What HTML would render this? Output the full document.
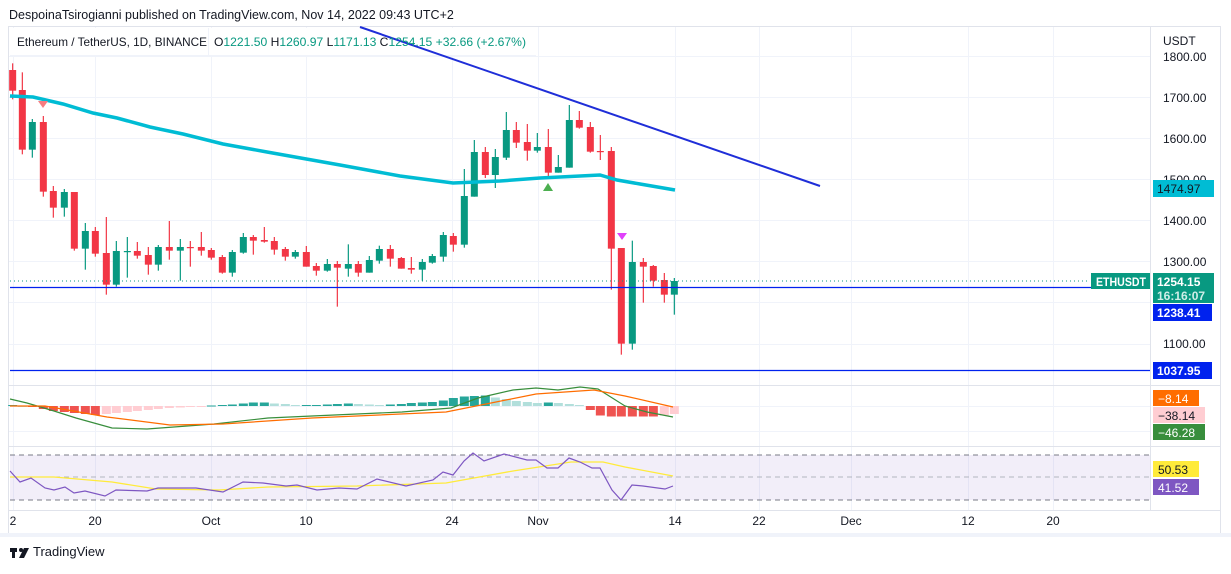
<!DOCTYPE html>
<html><head><meta charset="utf-8"><style>
body{margin:0;background:#fff;font-family:"Liberation Sans",sans-serif;}
svg text{font-family:"Liberation Sans",sans-serif;}
</style></head><body>
<svg id="s" width="1231" height="569" xmlns="http://www.w3.org/2000/svg">
<rect x="0" y="0" width="1231" height="569" fill="#fff"/>
<text x="9" y="19" font-size="12.5" fill="#131722">DespoinaTsirogianni published on TradingView.com, Nov 14, 2022 09:43 UTC+2</text>
<rect x="8.5" y="26.5" width="1212" height="507" fill="none" stroke="#e0e3eb"/>
<rect x="0" y="533" width="1231" height="4" fill="#f0f3fa"/>
<g id="grid" stroke="#f0f3fa" stroke-width="1"></g>
<line x1="9" y1="385.5" x2="1220" y2="385.5" stroke="#e0e3eb"/>
<line x1="9" y1="446.5" x2="1220" y2="446.5" stroke="#e0e3eb"/>
<line x1="1150.5" y1="27" x2="1150.5" y2="510" stroke="#e0e3eb"/>
<line x1="9" y1="510.5" x2="1220" y2="510.5" stroke="#e0e3eb"/>
<rect x="10" y="455" width="1140" height="45" fill="#7e57c2" fill-opacity="0.1"/>
<line x1="10" y1="455" x2="1150" y2="455" stroke="#787b86" stroke-dasharray="5,4"/>
<line x1="10" y1="477" x2="1150" y2="477" stroke="#b2b5be" stroke-dasharray="5,4"/>
<line x1="10" y1="500" x2="1150" y2="500" stroke="#787b86" stroke-dasharray="5,4"/>
<g id="c"></g>
<line x1="10" y1="281" x2="1090" y2="281" stroke="#089981" stroke-dasharray="1,3"/>
<line x1="10" y1="287.5" x2="1150" y2="287.5" stroke="#0022ee" stroke-width="1.2"/>
<line x1="10" y1="370.5" x2="1150" y2="370.5" stroke="#0022ee" stroke-width="1.2"/>
<polyline fill="none" stroke="#00bcd4" stroke-width="3.5" points="10,96 33,97 63,104 93,113 117,118 150,127 183,134 223,144 267,152 340,165 400,176 453,183 500,181 540,178 600,175 617,180 640,184 675,190"/>
<polygon points="38,101 48,101 43,108" fill="#f77c80"/>
<polygon points="543,191 553,191 548,183" fill="#4caf50"/>
<polygon points="617,233 627,233 622,240" fill="#e040fb"/>
<g id="h"></g>
<polyline fill="none" stroke="#388e3c" stroke-width="1.2" points="10,399 27,403 54,411 76,418 112,428 147,429 214,424 268,418 312,416 402,412 451,408 478,398 513,390 536,388 558,390 580,387 598,389 625,406 647,412 673,417"/>
<polyline fill="none" stroke="#ff6d00" stroke-width="1.2" points="10,406 45,406 107,417 170,425 223,424 312,418 446,412 491,403 536,394 594,390 625,396 673,407"/>
<polyline fill="none" stroke="#ffeb3b" stroke-width="1.3" points="10,477 54,477 112,482 156,489 219,490 268,487 357,486 446,483 513,471 571,462 603,462 625,467 673,476"/>
<polyline fill="none" stroke="#7e57c2" stroke-width="1.2" points="10,471 20,482 31,478 45,488 54,490 65,487 74,493 85,491 105,496 116,490 147,491 158,488 196,488 223,492 243,482 263,483 286,486 297,485 317,490 339,488 357,489 377,479 406,486 433,480 443,472 453,475 464,461 473,453 484,461 504,454 527,460 536,460 547,468 558,468 569,458 580,462 592,468 600,468 612,490 621,500 632,485 643,486 665,489 673,486"/>
<rect x="10" y="28" width="526" height="27" fill="#fff"/>
<line x1="10" y1="55.5" x2="536" y2="55.5" stroke="#f0f3fa"/>
<line x1="208.5" y1="28" x2="208.5" y2="55" stroke="#f0f3fa"/>
<line x1="360" y1="27" x2="820" y2="186" stroke="#1f2ed8" stroke-width="2"/>
<text x="17" y="46" font-size="12" fill="#131722" textLength="190" lengthAdjust="spacingAndGlyphs">Ethereum / TetherUS, 1D, BINANCE</text>
<text x="214" y="46" font-size="12" fill="#089981" textLength="312" lengthAdjust="spacingAndGlyphs"><tspan fill="#131722">O</tspan>1221.50  <tspan fill="#131722">H</tspan>1260.97  <tspan fill="#131722">L</tspan>1171.13  <tspan fill="#131722">C</tspan>1254.15  +32.66 (+2.67%)</text>
<g font-size="12" fill="#131722">
<text x="1163" y="45">USDT</text>
<text x="1163" y="61">1800.00</text><text x="1163" y="102">1700.00</text><text x="1163" y="143">1600.00</text><text x="1163" y="184">1500.00</text><text x="1163" y="225">1400.00</text><text x="1163" y="266">1300.00</text><text x="1163" y="348">1100.00</text>
</g>
<rect x="1153" y="180" width="61" height="17" fill="#00bcd4"/><text x="1157" y="193" font-size="12" fill="#131722">1474.97</text>
<rect x="1091" y="273" width="59" height="16" fill="#089981"/><text x="1096" y="286" font-size="11.5" fill="#fff" font-weight="bold" textLength="50" lengthAdjust="spacingAndGlyphs">ETHUSDT</text>
<rect x="1153" y="273" width="61" height="30" fill="#089981"/><text x="1157" y="286" font-size="12" fill="#fff" font-weight="bold">1254.15</text><text x="1157" y="300" font-size="12" fill="#cfeee8" font-weight="bold">16:16:07</text>
<rect x="1153" y="304" width="59" height="17" fill="#0022ee"/><text x="1157" y="317" font-size="12" fill="#fff" font-weight="bold">1238.41</text>
<rect x="1153" y="362" width="59" height="17" fill="#0022ee"/><text x="1157" y="375" font-size="12" fill="#fff" font-weight="bold">1037.95</text>
<rect x="1153" y="390" width="46" height="16" fill="#ff6d00"/><text x="1158" y="403" font-size="12" fill="#fff">−8.14</text>
<rect x="1153" y="407" width="52" height="16" fill="#ffcdd2"/><text x="1158" y="420" font-size="12" fill="#131722">−38.14</text>
<rect x="1153" y="424" width="52" height="16" fill="#388e3c"/><text x="1158" y="437" font-size="12" fill="#fff">−46.28</text>
<rect x="1153" y="461" width="46" height="16" fill="#ffeb3b"/><text x="1158" y="474" font-size="12" fill="#131722">50.53</text>
<rect x="1153" y="479" width="46" height="16" fill="#7e57c2"/><text x="1158" y="492" font-size="12" fill="#fff">41.52</text>
<g font-size="12" fill="#131722" text-anchor="middle">
<text x="13" y="525">2</text><text x="95" y="525">20</text><text x="211" y="525">Oct</text><text x="306" y="525">10</text><text x="452" y="525">24</text><text x="538" y="525">Nov</text><text x="675" y="525">14</text><text x="759" y="525">22</text><text x="851" y="525">Dec</text><text x="968" y="525">12</text><text x="1053" y="525">20</text>
</g>
<g transform="translate(10,545)"><rect x="0" y="3" width="7" height="4" fill="#131722"/><rect x="2" y="3" width="3" height="10" fill="#131722"/><circle cx="11" cy="5" r="2" fill="#131722"/><polygon points="14,3 19,3 14,13 9,13" fill="#131722"/></g>
<text x="33" y="556" font-size="13" fill="#131722">TradingView</text>
</svg>
<script>
var NS="http://www.w3.org/2000/svg";
function el(p,t,a){var e=document.createElementNS(NS,t);for(var k in a)e.setAttribute(k,a[k]);p.appendChild(e);return e;}
var g=document.getElementById('grid');
[13,95,211,306,452,538,675,759,851,968,1053].forEach(function(x){el(g,'line',{x1:x+.5,y1:27,x2:x+.5,y2:510});});
[56,97,138,179,220,261,302,344].forEach(function(y){el(g,'line',{x1:9,y1:y+.5,x2:1150,y2:y+.5});});
[406,431].forEach(function(y){el(g,'line',{x1:9,y1:y+.5,x2:1150,y2:y+.5});});
var A=[[38,45,107,25,133,0],[67,105,284,52,298,0],[97,201,284,192,308,1],[130,201,410,183,425,0],[160,408,458,393,488,0],[193,411,458,402,485,1],[223,411,581,411,587,0],[256,528,581,504,644,1],[286,528,596,516,605,0],[319,594,689,486,719,0],[349,588,689,558,695,1],[382,588,591,546,668,1],[412,588,602,561,611,0],[445,600,629,576,659,0],[475,576,629,570,647,1],[508,576,587,498,614,0],[541,576,587,552,677,1],[571,576,578,558,635,0],[604,576,587,531,602,0],[634,585,608,579,614,0],[667,606,653,600,656,0],[697,591,653,585,665,1],[730,546,593,534,596,1],[760,546,557,540,599,0],[793,555,560,516,563,0],[823,558,584,546,599,0],[856,582,605,576,617,0],[886,591,605,585,611,1],[919,591,635,573,635,0],[949,633,647,624,662,0],[982,627,647,612,650,1],[1012,627,638,618,755,0]];
var B=[[25,507,521,448,545,1],[55,507,533,498,545,0],[88,495,533,483,533,1],[118,462,497,452,506,1],[151,462,491,450,515,0],[184,489,521,486,521,0],[214,519,524,486,536,0],[247,501,524,492,557,1],[277,483,503,477,506,1],[310,420,485,411,500,1],[340,423,449,414,470,0],[373,303,449,222,458,1],[403,171,305,135,305,1],[436,171,240,156,249,0],[466,186,240,162,279,1],[499,105,188,51,195,1],[529,105,143,81,159,0],[562,141,167,87,197,0],[592,156,167,114,173,1],[625,156,233,102,249,0],[655,216,233,180,233,1],[688,75,218,30,218,1],[718,75,98,48,101,0],[751,96,170,81,173,0],[781,168,171,120,195,0],[814,168,461,156,584,0],[844,459,746,459,779,0],[877,501,746,437,764,1],[910,501,515,489,623,0],[940,513,557,510,575,0],[973,555,599,534,623,0],[1003,558,599,549,659,1]];
var c=document.getElementById('c'),xs=[];
function cand(x,t,b,h,l,up){var col=up?'#089981':'#f23645';el(c,'line',{x1:x,y1:h,x2:x,y2:l,stroke:col,'stroke-width':1.2});el(c,'rect',{x:x-3.5,y:t,width:7,height:Math.max(1.2,b-t),fill:col});xs.push(x);}
A.forEach(function(a){cand(a[0]/3,55+a[1]/3,55+a[2]/3,55+a[3]/3,55+a[4]/3,a[5]);});
B.forEach(function(a){cand(340+a[0]/3,95+a[1]/3,95+a[2]/3,95+a[3]/3,95+a[4]/3,a[5]);});
var hv=[1,0,-1,-3,-5,-6,-7,-8,-9,-8,-7,-6,-5,-4,-3,-2,-1.5,-1,-0.5,0.5,1,1.5,2.5,3.5,3.5,2.5,2,1,1,1,1.5,2,2.5,2,1.5,1,1.5,2,3,3.5,4,5.5,8,9.5,10,10.5,8.5,7,5,4,3,3.5,3,2,1,-4,-9.5,-10.5,-10.5,-10.5,-10.5,-10.5,-9.5,-8];
var h=document.getElementById('h');
xs.forEach(function(x,i){var v=hv[i]||0;var col;var prev=i?hv[i-1]:0;
if(v>=0)col=(v>=prev)?'#26a69a':'#b2dfdb';else col=(v<=prev)?'#ef5350':'#ffcdd2';
el(h,'rect',{x:x-4.5,y:v>=0?406-v:406,width:9,height:Math.max(1,Math.abs(v)),fill:col});});
</script>
</body></html>
